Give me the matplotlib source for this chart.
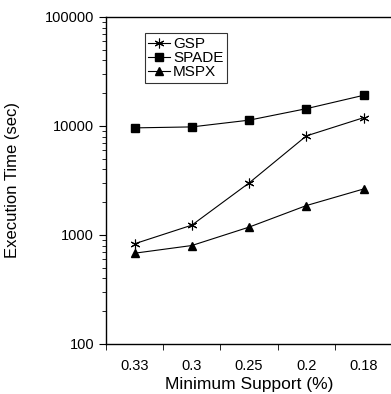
import numpy as np
import matplotlib
matplotlib.use('Agg')
import matplotlib.pyplot as plt

plt.rcParams['font.family'] = ['Liberation Sans', 'DejaVu Sans']

support = ['0.33', '0.3', '0.25', '0.2', '0.18']
gsp = [830, 1230, 3000, 8100, 11900]
spade = [9600, 9800, 11300, 14400, 19100]
mspx = [680, 800, 1180, 1860, 2640]

fig = plt.figure(figsize=(3.91, 3.94), dpi=100)
ax = fig.add_axes([0.271, 0.127, 0.732, 0.83])

x = np.arange(len(support))
ax.plot(x, gsp, color='black', lw=0.8, marker=(6, 2, 0), ms=7, mew=0.8, label='GSP')
ax.plot(x, spade, color='black', lw=0.8, marker='s', ms=6, label='SPADE')
ax.plot(x, mspx, color='black', lw=0.8, marker='^', ms=6, label='MSPX')

ax.set_yscale('log')
ax.set_ylim(100, 100000)
ax.set_xlim(-0.5, len(support) - 0.5)

ax.set_xticks(x)
ax.set_xticklabels(support)
ax.set_xticks(np.arange(len(support) + 1) - 0.5, minor=True)
ax.tick_params(axis='x', which='major', length=0, pad=11, labelsize=10.5)
ax.tick_params(axis='x', which='minor', length=4, direction='out')
ax.set_yticks([100, 1000, 10000, 100000])
ax.set_yticklabels(['100', '1000', '10000', '100000'])
ax.tick_params(axis='y', which='major', length=5, labelsize=10.5, direction='out')
ax.tick_params(axis='y', which='minor', length=3, direction='out')

for s in ax.spines.values():
    s.set_linewidth(1.0)
ax.spines['right'].set_visible(False)

ax.set_xlabel('Minimum Support (%)', fontsize=12.5)
ax.set_ylabel('Execution Time (sec)', fontsize=12)
ax.xaxis.set_label_coords(0.5, -0.125)
ax.xaxis.label.set_va('center')
ax.yaxis.set_label_coords(-0.325, 0.5)
ax.yaxis.label.set_va('center')

leg = ax.legend(loc='upper left', bbox_to_anchor=(0.135, 0.95), frameon=True,
                fancybox=False, edgecolor='black', fontsize=11, handlelength=1.4,
                handletextpad=0.2, borderpad=0.25, labelspacing=0.0, borderaxespad=0)
leg.get_frame().set_linewidth(0.8)

fig.savefig('out.png', dpi=100)
